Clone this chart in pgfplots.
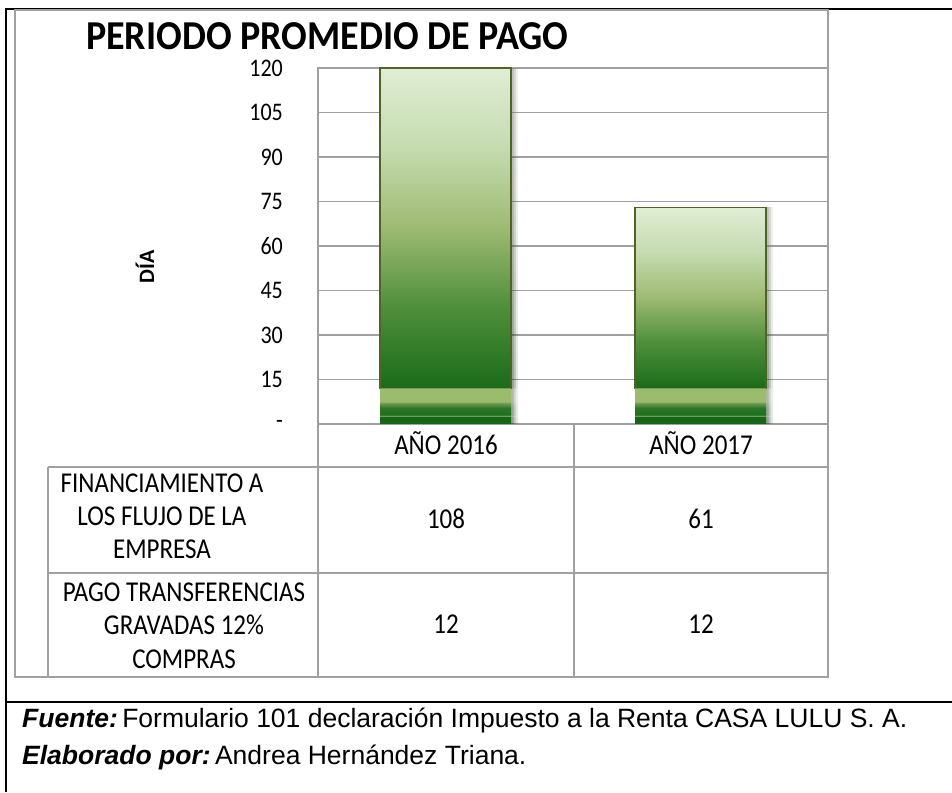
\documentclass[border=0pt]{standalone}
\usepackage{pgfplots}
\pgfplotsset{compat=1.18}
\usepackage{fontspec}
\setmainfont{Carlito}
\newfontfamily\arial{Liberation Sans}
\definecolor{gg}{RGB}{160,160,160}
\definecolor{bord}{RGB}{79,98,40}
\definecolor{g1}{RGB}{26,107,26}
\definecolor{g2}{RGB}{78,142,58}
\definecolor{g3}{RGB}{157,186,114}
\definecolor{g4}{RGB}{197,219,176}
\definecolor{g5}{RGB}{224,237,212}
\definecolor{d1}{RGB}{30,110,30}
\definecolor{d2}{RGB}{23,101,23}
\definecolor{d3}{RGB}{42,120,40}
\definecolor{ll}{RGB}{125,172,112}
\definecolor{mo}{RGB}{112,152,80}
\definecolor{lo}{RGB}{155,187,109}
\pgfdeclareverticalshading{topseg}{100bp}{color(0bp)=(g1); color(25bp)=(g1); color(37.5bp)=(g2); color(50bp)=(g3); color(62.5bp)=(g4); color(75bp)=(g5); color(100bp)=(g5)}
\pgfdeclareverticalshading{botseg}{100bp}{color(0bp)=(d2); color(25bp)=(d2); color(35bp)=(d2); color(36.5bp)=(ll); color(38bp)=(d1); color(47.5bp)=(d3); color(54bp)=(mo); color(56.5bp)=(lo); color(75bp)=(lo); color(100bp)=(lo)}
\newcommand\tf{\fontsize{25}{30}\selectfont}
\tikzset{softshadow/.style={
  preaction={draw=none, fill=black, opacity=0.06, transform canvas={xshift=7pt}},
  preaction={draw=none, fill=black, opacity=0.10, transform canvas={xshift=4.5pt}},
  preaction={draw=none, fill=black, opacity=0.12, transform canvas={xshift=2.5pt}}}}
% PAGO TRANSFERENCIAS GRAVADAS 12% COMPRAS (bottom segment)
\pgfplotstableread{
x y
0 12
1 12
}\pagotab
% FINANCIAMIENTO A LOS FLUJO DE LA EMPRESA, one table per year
\pgfplotstableread{
x y
0 0
1 61
}\finb
\pgfplotstableread{
x y
0 108
1 0
}\fina
\begin{document}
\begin{tikzpicture}[x=1pt,y=1pt]
\path[use as bounding box] (0,0) rectangle (952,792);
% outer black frame
\draw[line width=2.5pt] (6,0) -- (6,783) -- (952,783);
\draw[line width=2.5pt] (6,90) -- (952,90);
% chart area
\draw[gg, line width=1.3pt] (15,782) rectangle (828,115);
\begin{axis}[
  at={(318pt,368pt)}, anchor=south west,
  scale only axis, width=510pt, height=356pt,
  xmin=-0.5, xmax=1.5, ymin=0, ymax=120,
  xtick=\empty,
  ytick={0,15,...,120},
  yticklabels={{-\hspace{19pt}},15,30,45,60,75,90,105,120},
  major tick length=0pt,
  yticklabel style={font=\fontsize{22}{26}\selectfont, anchor=east, inner sep=0pt, xshift=-35pt, yscale=1.15},
  ymajorgrids, grid style={gg, line width=1.3pt},
  axis line style={gg, line width=1.3pt},
  ybar stacked, bar width=131pt,
  clip=false,
]
\addplot[softshadow, shading=botseg, draw=none] table[x=x, y=y] {\pagotab};
\addplot[softshadow, shading=topseg, draw=bord, line width=1.5pt] table[x=x, y=y] {\finb};
\addplot[softshadow, shading=topseg, draw=bord, line width=1.5pt] table[x=x, y=y] {\fina};
\end{axis}
% data table lines
\draw[gg, line width=1.3pt] (48,325) -- (828,325);
\draw[gg, line width=1.3pt] (48,219) -- (828,219);
\draw[gg, line width=1.3pt] (48,325) -- (48,115);
\draw[gg, line width=1.3pt] (318,368) -- (318,115);
\draw[gg, line width=1.3pt] (574,368) -- (574,115);
% title and axis label
\node[anchor=base west, inner sep=0pt, text depth=0pt, yscale=1.08, font=\fontsize{38}{44}\selectfont\bfseries] at (86,742) {PERIODO PROMEDIO DE PAGO};
\node[rotate=90, inner sep=0pt, font=\fontsize{22}{26}\selectfont\bfseries] at (145,525) {DÍA};
% table text
\begin{scope}[every node/.style={anchor=base, inner sep=0pt, font=\tf, yscale=1.15}]
\node at (446,337) {AÑO 2016};
\node at (701,337) {AÑO 2017};
\node at (446,263) {108};
\node at (701,263) {61};
\node at (446,158) {12};
\node at (701,158) {12};
\node at (162,299) {FINANCIAMIENTO A};
\node at (162,266) {LOS FLUJO DE LA};
\node at (162,233) {EMPRESA};
\node at (184,190) {PAGO TRANSFERENCIAS};
\node at (184,157) {GRAVADAS 12\%};
\node at (184,124) {COMPRAS};
\end{scope}
% footer
\node[anchor=base west, inner sep=0pt, font=\arial\fontsize{26.5}{30}\selectfont] at (22,65) {\textbf{\textit{Fuente:}}\,Formulario 101 declaración Impuesto a la Renta CASA LULU S. A.};
\node[anchor=base west, inner sep=0pt, font=\arial\fontsize{26.5}{30}\selectfont] at (22,28) {\textbf{\textit{Elaborado por:}}\,Andrea Hernández Triana.};
\end{tikzpicture}
\end{document}
